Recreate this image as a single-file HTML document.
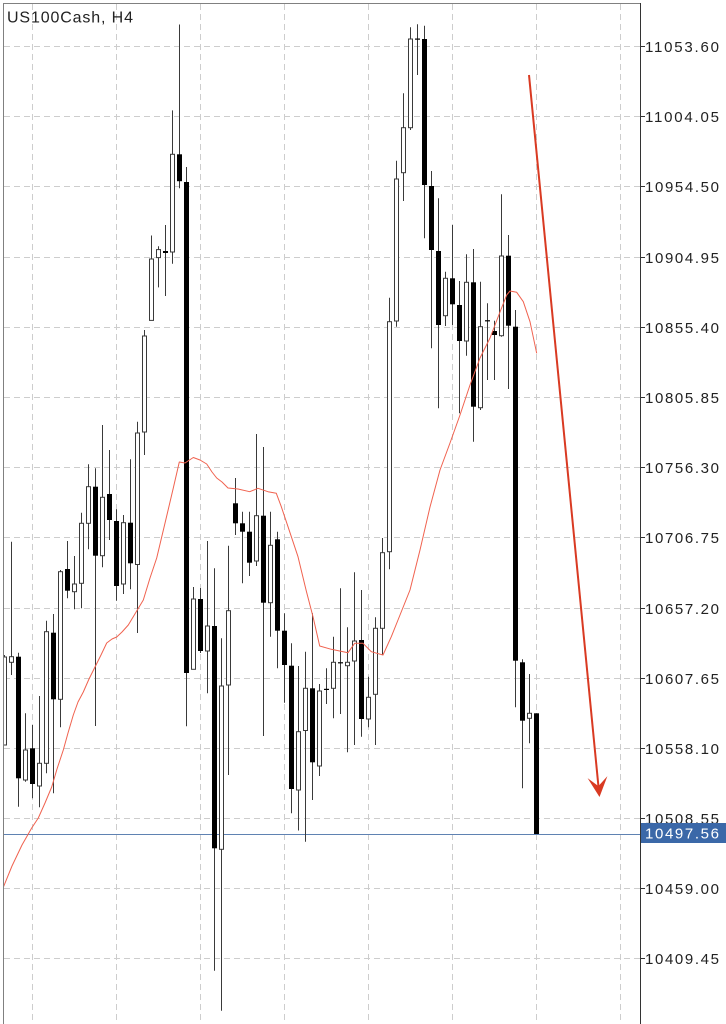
<!DOCTYPE html>
<html><head><meta charset="utf-8"><style>
html,body{margin:0;padding:0;background:#fff;}
svg{display:block;}
</style></head><body>
<svg width="726" height="1024" viewBox="0 0 726 1024" xmlns="http://www.w3.org/2000/svg">
<defs><clipPath id="pa"><rect x="4" y="4" width="636" height="1020"/></clipPath></defs>
<rect x="0" y="0" width="726" height="1024" fill="#fff"/>
<g stroke="#cdcdcd" stroke-width="1" stroke-dasharray="6 4" fill="none">
<path d="M4 46.5H640M4 116.5H640M4 186.5H640M4 257.5H640M4 327.5H640M4 397.5H640M4 467.5H640M4 537.5H640M4 608.5H640M4 678.5H640M4 748.5H640M4 818.5H640M4 888.5H640M4 958.5H640"/>
<path d="M32.5 4V1024M116.5 4V1024M200.5 4V1024M284.5 4V1024M368.5 4V1024M452.5 4V1024M536.5 4V1024M620.5 4V1024"/>
</g>
<path d="M3.5 1024V3.5H640.5V1024" stroke="#808080" stroke-width="1" fill="none"/>
<path d="M640.5 3V1024" stroke="#333" stroke-width="1"/>
<path d="M640 46.5h5M640 116.5h5M640 186.5h5M640 257.5h5M640 327.5h5M640 397.5h5M640 467.5h5M640 537.5h5M640 608.5h5M640 678.5h5M640 748.5h5M640 818.5h5M640 888.5h5M640 958.5h5" stroke="#333" stroke-width="1"/>
<g font-family="Liberation Sans, Arial, sans-serif" font-size="15" fill="#222">
<text x="645" y="52" textLength="74" lengthAdjust="spacing">11053.60</text>
<text x="645" y="122" textLength="74" lengthAdjust="spacing">11004.05</text>
<text x="645" y="192" textLength="74" lengthAdjust="spacing">10954.50</text>
<text x="645" y="263" textLength="74" lengthAdjust="spacing">10904.95</text>
<text x="645" y="333" textLength="74" lengthAdjust="spacing">10855.40</text>
<text x="645" y="403" textLength="74" lengthAdjust="spacing">10805.85</text>
<text x="645" y="473" textLength="74" lengthAdjust="spacing">10756.30</text>
<text x="645" y="543" textLength="74" lengthAdjust="spacing">10706.75</text>
<text x="645" y="614" textLength="74" lengthAdjust="spacing">10657.20</text>
<text x="645" y="684" textLength="74" lengthAdjust="spacing">10607.65</text>
<text x="645" y="754" textLength="74" lengthAdjust="spacing">10558.10</text>
<text x="645" y="824" textLength="74" lengthAdjust="spacing">10508.55</text>
<text x="645" y="894" textLength="74" lengthAdjust="spacing">10459.00</text>
<text x="645" y="964" textLength="74" lengthAdjust="spacing">10409.45</text>
</g>
<text x="7" y="22.7" font-family="Liberation Sans, Arial, sans-serif" font-size="16" fill="#222" textLength="126" lengthAdjust="spacing">US100Cash, H4</text>
<path d="M4 834.5H640" stroke="#5f82b2" stroke-width="1"/>
<g clip-path="url(#pa)">
<path stroke="#3a3a3a" stroke-width="1" fill="none" d="M4.5 655V745M11.5 541.7V675M18.5 652.7V806.7M25.5 713.3V781.7M32.5 725V798.3M39.5 696V807.3M46.5 620.7V773.3M53.5 614V793.3M60.5 570V727.3M67.5 541V598.3M74.5 556V609.3M81.5 512.7V608.3M88.5 464.3V549.3M95.5 468.3V726M102.5 425V567.3M109.5 450V540M116.5 509.3V600.7M123.5 515V594M130.5 459.3V589.3M137.5 421.7V633M144.5 330V455M151.5 235.5V320.4M158.5 246.3V287.4M165.5 225V296M172.5 110.4V263.8M179.5 24.5V188.3M186.5 167V726.3M193.5 587V669.3M200.5 588V653M207.5 541V693.3M214.5 568.3V970.7M221.5 638.3V1010.7M228.5 545.7V775M235.5 478V535M242.5 511.7V583.3M249.5 511.7V576M256.5 434V566M263.5 447V736M270.5 511.7V636.7M277.5 531.7V668.3M284.5 613.3V702.7M291.5 643.3V813.3M298.5 666V830.5M305.5 651.7V841.7M312.5 613.3V800M319.5 684V776M326.5 668.3V704M333.5 636.7V718.3M340.5 588.3V714M347.5 627.3V752.3M354.5 572.3V745M361.5 590V736.7M368.5 676.7V727.3M375.5 617.3V745M382.5 538V655M389.5 297.7V569.3M396.5 160.7V326.7M403.5 93.3V201M410.5 27.3V130M417.5 24.3V75M424.5 25.7V238.3M431.5 171V348.3M438.5 198.3V408.3M445.5 271.7V326M452.5 225V325M459.5 281V413.3M466.5 254.3V355.7M473.5 249V441.7M480.5 281.7V410M487.5 303.3V380M494.5 320.7V380M501.5 194.3V336.7M508.5 235V389M515.5 310V707.3M522.5 659.3V788.3M529.5 674V743.3M536.5 713.3V834"/>
<g fill="#000">
<rect x="16" y="656.7" width="5" height="121.6"/>
<rect x="30" y="748.3" width="5" height="35.7"/>
<rect x="51" y="632.7" width="5" height="66.6"/>
<rect x="65" y="569" width="5" height="21.7"/>
<rect x="93" y="486.7" width="5" height="69"/>
<rect x="107" y="494" width="5" height="26"/>
<rect x="114" y="521" width="5" height="65"/>
<rect x="128" y="522.7" width="5" height="40.6"/>
<rect x="163" y="251" width="5" height="2"/>
<rect x="177" y="154.3" width="5" height="26.9"/>
<rect x="184" y="182" width="5" height="491"/>
<rect x="198" y="599" width="5" height="52"/>
<rect x="212" y="626" width="5" height="222.3"/>
<rect x="233" y="503.3" width="5" height="20"/>
<rect x="240" y="523.3" width="5" height="8.4"/>
<rect x="247" y="531.7" width="5" height="31"/>
<rect x="261" y="515.7" width="5" height="87"/>
<rect x="275" y="539.3" width="5" height="91.4"/>
<rect x="282" y="630.7" width="5" height="34.3"/>
<rect x="289" y="665.7" width="5" height="123.3"/>
<rect x="310" y="688.3" width="5" height="74"/>
<rect x="324" y="688.8" width="5" height="1.2"/>
<rect x="338" y="662.2" width="5" height="1.2"/>
<rect x="359" y="640" width="5" height="79"/>
<rect x="415" y="38.5" width="5" height="1.2"/>
<rect x="422" y="39" width="5" height="146"/>
<rect x="429" y="186" width="5" height="64"/>
<rect x="436" y="251" width="5" height="74"/>
<rect x="450" y="278.3" width="5" height="26"/>
<rect x="457" y="305" width="5" height="36"/>
<rect x="471" y="282.3" width="5" height="124.4"/>
<rect x="485" y="320.2" width="5" height="1.2"/>
<rect x="492" y="331" width="5" height="4"/>
<rect x="506" y="255.7" width="5" height="70"/>
<rect x="513" y="326.7" width="5" height="334"/>
<rect x="520" y="662.3" width="5" height="58.4"/>
<rect x="534" y="713.3" width="5" height="120.7"/>
</g>
<g fill="#fff" stroke="#3a3a3a" stroke-width="1">
<rect x="2.5" y="657" width="4" height="88"/>
<rect x="9.5" y="656.7" width="4" height="5.6"/>
<rect x="23.5" y="750" width="4" height="30"/>
<rect x="37.5" y="763.3" width="4" height="22.7"/>
<rect x="44.5" y="631.7" width="4" height="131.6"/>
<rect x="58.5" y="571.7" width="4" height="127.6"/>
<rect x="72.5" y="584" width="4" height="7.7"/>
<rect x="79.5" y="523.3" width="4" height="60"/>
<rect x="86.5" y="486.7" width="4" height="36.6"/>
<rect x="100.5" y="497.3" width="4" height="58.4"/>
<rect x="121.5" y="522.7" width="4" height="61.3"/>
<rect x="135.5" y="433" width="4" height="131.5"/>
<rect x="142.5" y="336" width="4" height="96"/>
<rect x="149.5" y="259" width="4" height="61.4"/>
<rect x="156.5" y="249.6" width="4" height="8"/>
<rect x="170.5" y="154.3" width="4" height="97.7"/>
<rect x="191.5" y="599" width="4" height="70.3"/>
<rect x="205.5" y="626" width="4" height="25"/>
<rect x="219.5" y="686" width="4" height="163.3"/>
<rect x="226.5" y="610.7" width="4" height="74.3"/>
<rect x="254.5" y="515.7" width="4" height="45.3"/>
<rect x="268.5" y="545.3" width="4" height="57.4"/>
<rect x="296.5" y="731.7" width="4" height="58.3"/>
<rect x="303.5" y="688.3" width="4" height="42.2"/>
<rect x="317.5" y="691" width="4" height="75"/>
<rect x="331.5" y="662.3" width="4" height="26"/>
<rect x="345.5" y="662.3" width="4" height="3.4"/>
<rect x="352.5" y="641" width="4" height="20"/>
<rect x="366.5" y="697.3" width="4" height="21.7"/>
<rect x="373.5" y="628.3" width="4" height="66"/>
<rect x="380.5" y="552.7" width="4" height="75.6"/>
<rect x="387.5" y="321.7" width="4" height="230"/>
<rect x="394.5" y="179" width="4" height="142"/>
<rect x="401.5" y="127.7" width="4" height="45"/>
<rect x="408.5" y="39" width="4" height="88.7"/>
<rect x="443.5" y="278.3" width="4" height="37.4"/>
<rect x="464.5" y="282.3" width="4" height="58.7"/>
<rect x="478.5" y="326.7" width="4" height="81"/>
<rect x="499.5" y="256" width="4" height="79.7"/>
<rect x="527.5" y="713.3" width="4" height="5"/>
</g>
<polyline fill="none" stroke="#f0624f" stroke-width="1" stroke-linejoin="round" points="3,888 12,866 22,845 31.7,828 38.3,818 45,803 51.7,787 57,769 63.3,750 68,733 73.3,715 78,702 83.3,692 89,679 95,667 101,655 106.7,643 112,639 116.7,637 122,632 128.3,625 136.7,611 143.3,600 150,578 156.7,558 166.7,516 173.3,488 179.3,462 185,463 193.3,457.5 200,460 206.7,464 212,472 216.7,478 222,482 228,488 238,489 249.7,491.7 258,488.3 268,491.7 276.3,493.3 281.3,506.7 288,526.7 298,556.7 306.3,591 313,616.7 319.7,646 331.3,649.3 348,652.7 354.7,643.3 363,643.3 371.3,651.7 383,655 391.3,636.7 398,620 410,590 420,550 430,507 440,470 450,443 460,415 470,385 480,358 490,338 500,312 506.7,295 510,291 516.7,292.3 523.3,301.7 530,321.7 536.7,353.3"/>
</g>
<line x1="529" y1="75" x2="598.6" y2="788" stroke="#d93a22" stroke-width="2"/>
<polygon points="599.5,797 587.6,778.1 598.4,786.1 607.4,776.1" fill="#d93a22"/>
<rect x="641" y="823" width="85" height="20" fill="#3b68a8"/>
<text x="645" y="838.5" font-family="Liberation Sans, Arial, sans-serif" font-size="15" fill="#fff" textLength="74" lengthAdjust="spacing">10497.56</text>
</svg>
</body></html>
